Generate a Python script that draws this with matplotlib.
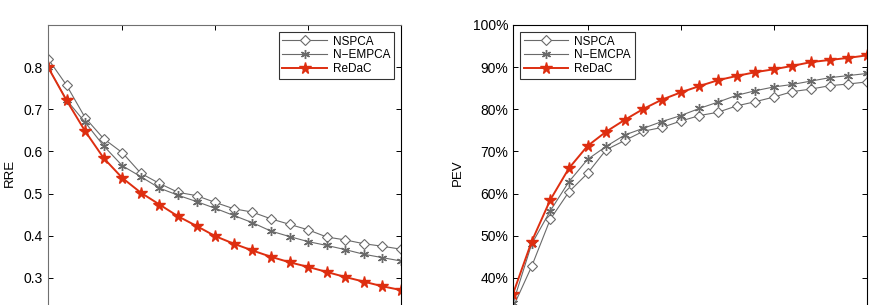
import matplotlib
matplotlib.use("Agg")
import matplotlib.pyplot as plt
from matplotlib.ticker import FuncFormatter

plt.rcParams['font.family'] = ['Liberation Sans', 'DejaVu Sans']

x = list(range(1, 21))

rre_nspca = [0.820, 0.757, 0.680, 0.630, 0.597, 0.548, 0.524, 0.503, 0.495, 0.479,
             0.464, 0.456, 0.440, 0.427, 0.414, 0.397, 0.390, 0.381, 0.375, 0.368]
rre_nempca = [0.800, 0.722, 0.669, 0.613, 0.566, 0.540, 0.513, 0.496, 0.481, 0.465,
              0.448, 0.431, 0.411, 0.398, 0.386, 0.377, 0.367, 0.356, 0.348, 0.340]
rre_redac = [0.800, 0.721, 0.648, 0.584, 0.537, 0.502, 0.474, 0.446, 0.423, 0.399,
             0.381, 0.365, 0.350, 0.337, 0.326, 0.314, 0.302, 0.291, 0.280, 0.271]

pev_nspca = [33.0, 42.7, 53.9, 60.4, 64.8, 70.4, 72.6, 74.8, 75.7, 77.2,
             78.5, 79.3, 80.8, 81.8, 82.9, 84.2, 84.8, 85.6, 86.0, 86.5]
pev_nemcpa = [34.0, 48.0, 55.9, 62.8, 68.1, 71.2, 73.9, 75.5, 77.1, 78.5,
              80.2, 81.7, 83.3, 84.4, 85.3, 85.9, 86.7, 87.5, 88.0, 88.5]
pev_redac = [36.2, 48.6, 58.5, 66.0, 71.3, 74.7, 77.5, 80.1, 82.3, 84.0,
             85.5, 86.9, 87.9, 88.8, 89.5, 90.3, 91.2, 91.7, 92.2, 92.8]

left_names = ['NSPCA', 'N\u2212EMPCA', 'ReDaC']
right_names = ['NSPCA', 'N\u2212EMCPA', 'ReDaC']

x_ticks = [5, 10, 15, 20]
rre_ticks = [0.3, 0.4, 0.5, 0.6, 0.7, 0.8]
pev_ticks = [40, 50, 60, 70, 80, 90, 100]

GRAY = '#6a6a6a'
RED = '#de2e10'

fig = plt.figure(figsize=(8.79, 3.05), dpi=100)
H = 295 / 305
ax1 = fig.add_axes([48 / 879, 1 - 25 / 305 - H, 353 / 879, H])
ax2 = fig.add_axes([513 / 879, 1 - 25 / 305 - H, 354 / 879, H])


def draw(ax, s1, s2, s3, names):
    ax.plot(x, s1, color=GRAY, lw=0.8, marker='D', ms=5, mfc='white', mec=GRAY, mew=0.8, label=names[0])
    ax.plot(x, s2, color=GRAY, lw=0.8, marker=(6, 2, 0), ms=6.5, mec=GRAY, mew=1.0, label=names[1])
    ax.plot(x, s3, color=RED, lw=1.4, marker='*', ms=8.5, mfc=RED, mec=RED, label=names[2])
    ax.set_xlim(1, 20)
    ax.set_xticks(x_ticks)
    ax.tick_params(direction='in', top=True, right=True, length=3.5, width=0.7,
                   labelsize=10, labelbottom=False)
    for sp in ax.spines.values():
        sp.set_linewidth(0.8)


draw(ax1, rre_nspca, rre_nempca, rre_redac, left_names)
ax1.set_ylim(0.2, 0.9)
ax1.set_yticks(rre_ticks)
ax1.yaxis.set_major_formatter(FuncFormatter(lambda v, p: f'{v:.1f}'))
ax1.set_ylabel('RRE', fontsize=9.5, labelpad=6)
for k in ('left', 'top'):
    ax1.spines[k].set_color('#707070')
leg1 = ax1.legend(loc='upper right', fontsize=8.5, frameon=True, fancybox=False,
                  edgecolor='black', handlelength=3.8, borderpad=0.3, labelspacing=0.15,
                  handletextpad=0.5, borderaxespad=0.6)
leg1.get_frame().set_linewidth(0.8)

draw(ax2, pev_nspca, pev_nemcpa, pev_redac, right_names)
ax2.set_ylim(30, 100)
ax2.set_yticks(pev_ticks)
ax2.yaxis.set_major_formatter(FuncFormatter(lambda v, p: f'{v:.0f}%'))
ax2.set_ylabel('PEV', fontsize=9.5, labelpad=6)
leg2 = ax2.legend(loc='upper left', fontsize=8.5, frameon=True, fancybox=False,
                  edgecolor='black', handlelength=3.8, borderpad=0.3, labelspacing=0.15,
                  handletextpad=0.5, borderaxespad=0.6)
leg2.get_frame().set_linewidth(0.8)

fig.savefig('out.png', dpi=100)
